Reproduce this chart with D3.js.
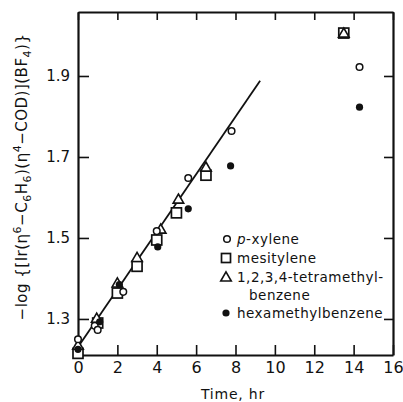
<!DOCTYPE html>
<html>
<head>
<meta charset="utf-8">
<script src="https://cdn.jsdelivr.net/npm/d3@7"></script>
<style>
  body { margin: 0; background: #fff; }
  text { font-family: "DejaVu Sans", sans-serif; fill: #111; }
</style>
</head>
<body>
<svg width="403" height="402"></svg>
<script>
// values
const xTicks = [0, 2, 4, 6, 8, 10, 12, 14, 16];
const yTicks = [1.3, 1.5, 1.7, 1.9];

const xyleneT = [0, 0.85, 1.0, 2.3, 4.0, 5.6, 7.8, 14.3];
const xyleneV = [1.25, 1.283, 1.273, 1.367, 1.517, 1.648, 1.764, 1.922];

const mesityleneT = [0, 1.0, 2.0, 3.0, 4.0, 5.0, 6.5, 13.5];
const mesityleneV = [1.215, 1.29, 1.364, 1.43, 1.495, 1.562, 1.655, 2.006];

const tetraT = [0, 0.95, 2.0, 3.0, 4.2, 5.1, 6.5, 13.5];
const tetraV = [1.235, 1.302, 1.389, 1.452, 1.522, 1.596, 1.675, 2.006];

const hexaT = [0, 1.1, 2.1, 4.05, 5.6, 7.75, 14.3];
const hexaV = [1.225, 1.293, 1.385, 1.478, 1.572, 1.678, 1.823];

const fitT = [0, 9.25];
const fitV = [1.231, 1.888];

const legendLabels = ["-xylene", "mesitylene", "1,2,3,4-tetramethyl-", "benzene", "hexamethylbenzene"];

const svg = d3.select('svg');

const x = d3.scaleLinear().domain([0, 16]).range([78, 393]);
const y = d3.scaleLinear().domain([1.211, 2.058]).range([355, 12]);

// frame axes
const gx = svg.append('g')
  .attr('transform', 'translate(0,355)')
  .call(d3.axisBottom(x).tickValues(xTicks).tickSize(-10).tickSizeOuter(0).tickPadding(7).tickFormat(d3.format('d')));
const gxTop = svg.append('g')
  .attr('transform', 'translate(0,12)')
  .call(d3.axisTop(x).tickValues(xTicks).tickSize(-8).tickSizeOuter(0).tickFormat(''));
const gy = svg.append('g')
  .attr('transform', 'translate(78,0)')
  .call(d3.axisLeft(y).tickValues(yTicks).tickSize(-11).tickSizeOuter(0).tickPadding(8).tickFormat(d3.format('.1f')));
const gyRight = svg.append('g')
  .attr('transform', 'translate(393,0)')
  .call(d3.axisRight(y).tickValues(yTicks).tickSize(-9).tickSizeOuter(0).tickFormat(''));

[gx, gxTop, gy, gyRight].forEach(g => {
  g.select('.domain').attr('stroke', '#111').attr('stroke-width', 2.2);
  g.selectAll('.tick line').attr('stroke', '#111').attr('stroke-width', 1.6);
  g.selectAll('.tick text').style('font-size', '15px').attr('fill', '#111');
});
gx.selectAll('.tick text').style('font-size', '16px');

// fit line
const fit = fitT.map((t, i) => [t, fitV[i]]);
svg.append('path')
  .datum(fit)
  .attr('fill', 'none')
  .attr('stroke', '#111')
  .attr('stroke-width', 1.8)
  .attr('d', d3.line().x(d => x(d[0])).y(d => y(d[1])));

const pts = (ts, vs) => ts.map((t, i) => ({ t: t, v: vs[i] }));

// markers
const drawSquare = (g, cx, cy, s) => g.append('rect')
  .attr('x', cx - s / 2).attr('y', cy - s / 2).attr('width', s).attr('height', s)
  .attr('fill', '#fff').attr('stroke', '#111').attr('stroke-width', 1.7);
const triPath = d3.symbol().type(d3.symbolTriangle).size(48);
const drawTri = (g, cx, cy) => g.append('path')
  .attr('d', triPath).attr('transform', `translate(${cx},${cy + 1})`)
  .attr('fill', '#fff').attr('stroke', '#111').attr('stroke-width', 1.6);
const drawCircle = (g, cx, cy) => g.append('circle')
  .attr('cx', cx).attr('cy', cy).attr('r', 3.3)
  .attr('fill', '#fff').attr('stroke', '#111').attr('stroke-width', 1.5);
const drawDot = (g, cx, cy) => g.append('circle')
  .attr('cx', cx).attr('cy', cy).attr('r', 3.6).attr('fill', '#111');

const marks = svg.append('g');
pts(mesityleneT, mesityleneV).forEach(d => drawSquare(marks, x(d.t), y(d.v), 10));
pts(tetraT, tetraV).forEach(d => drawTri(marks, x(d.t), y(d.v)));
pts(xyleneT, xyleneV).forEach(d => drawCircle(marks, x(d.t), y(d.v)));
pts(hexaT, hexaV).forEach(d => drawDot(marks, x(d.t), y(d.v)));

// legend
const leg = svg.append('g');
const rowY = [239, 258, 277, 295, 313];
drawCircle(leg, 227, rowY[0]);
drawSquare(leg, 226, rowY[1], 9);
drawTri(leg, 226, rowY[2]);
drawDot(leg, 226, rowY[4]);
const labs = leg.selectAll('text.lab')
  .data(legendLabels)
  .enter().append('text')
  .attr('class', 'lab')
  .attr('x', (d, i) => i === 3 ? 249 : 237)
  .attr('y', (d, i) => rowY[i] + 4.5)
  .style('font-size', '13.5px')
  .style('letter-spacing', '0.5px');
labs.each(function (d, i) {
  const t = d3.select(this);
  if (i === 0) t.append('tspan').style('font-style', 'italic').text('p');
  t.append('tspan').text(d);
});

// axis titles
svg.append('text')
  .attr('x', 233).attr('y', 399)
  .attr('text-anchor', 'middle')
  .style('font-size', '14px')
  .style('letter-spacing', '0.8px')
  .text('Time, hr');

const yl = svg.append('text')
  .attr('transform', 'translate(27,177) rotate(-90)')
  .attr('text-anchor', 'middle')
  .style('font-size', '15px')
  .style('letter-spacing', '0.5px');
const parts = [
  ['−log {[Ir(η', 0], ['6', -6], ['−C', 0], ['6', 4], ['H', 0], ['6', 4], [')(η', 0], ['4', -6],
  ['−COD)](BF', 0], ['4', 4], [')}', 0]
];
let prev = 0;
parts.forEach(p => {
  yl.append('tspan')
    .attr('dy', p[1] - prev)
    .style('font-size', p[1] === 0 ? '15px' : '11px')
    .text(p[0]);
  prev = p[1];
});
</script>
</body>
</html>
